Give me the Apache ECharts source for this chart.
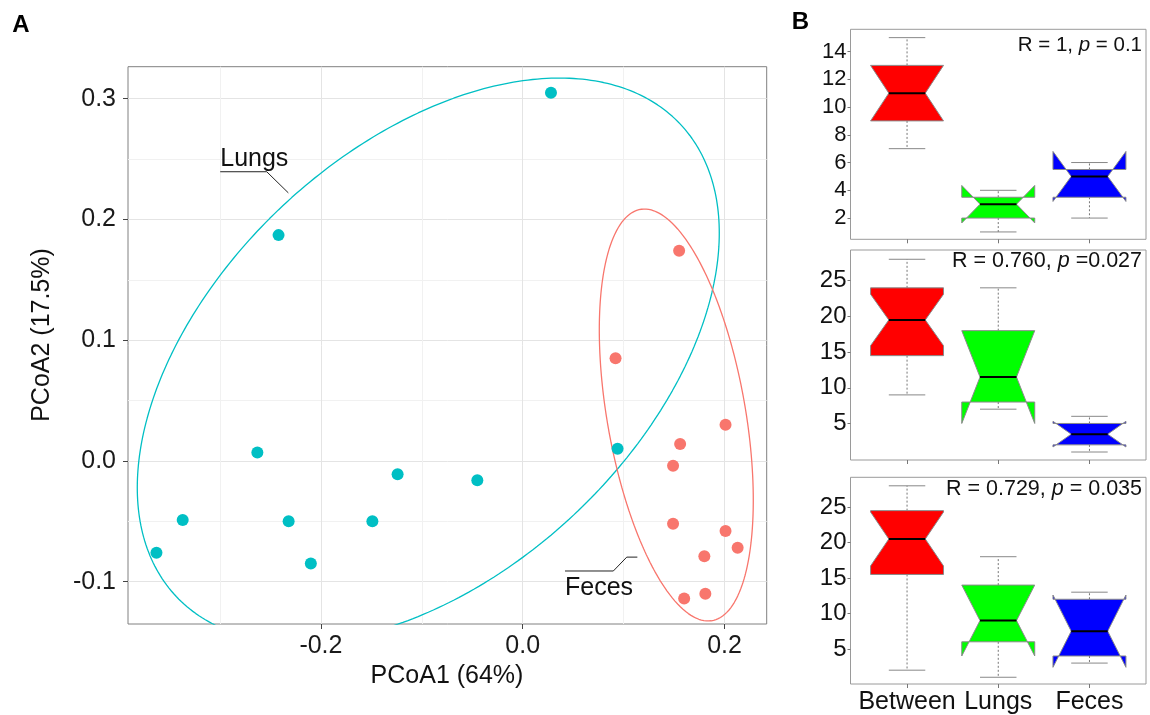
<!DOCTYPE html>
<html><head><meta charset="utf-8">
<script src="https://cdn.jsdelivr.net/npm/echarts@6/dist/echarts.min.js"></script>
<style>html,body{margin:0;padding:0;background:#fff}#c{width:1150px;height:715px}</style>
</head><body><div id="c"></div>
<script>
// ---------- Panel A data (PCoA) ----------
const lungsX = [0.028, -0.242, -0.263, -0.337, -0.363, -0.232, -0.210, -0.149, -0.124, -0.045, 0.094];
const lungsY = [0.305, 0.187, 0.007, -0.049, -0.076, -0.050, -0.085, -0.050, -0.011, -0.016, 0.010];
const fecesX = [0.155, 0.092, 0.201, 0.156, 0.149, 0.149, 0.201, 0.213, 0.180, 0.181, 0.160];
const fecesY = [0.174, 0.085, 0.030, 0.014, -0.004, -0.052, -0.058, -0.072, -0.079, -0.110, -0.114];
const xTicksA = [-0.2, 0.0, 0.2];
const yTicksA = [-0.1, 0.0, 0.1, 0.2, 0.3];
const xMinorA = [-0.3, -0.1, 0.1];
const yMinorA = [-0.05, 0.05, 0.15, 0.25];
// ellipse: centre x, centre y, x half-extent, y half-extent, phase (deg)
const lungsEllipse = [-0.0936, 0.0833, 0.2884, 0.2338, 63.2];
const fecesEllipse = [0.1522, 0.038, 0.0763, 0.1706, 114.4];
// group labels with leaders
const lungsLabelPos = [-0.2998, 0.250];
const lungsLeaderX = [-0.2998, -0.2537, -0.2323];
const lungsLeaderY = [0.2395, 0.2395, 0.2220];
const fecesLabelPos = [0.0419, -0.1055];
const fecesLeaderX = [0.0419, 0.0898, 0.1031, 0.1136];
const fecesLeaderY = [-0.0912, -0.0912, -0.0797, -0.0797];

// ---------- Panel B data (boxplots) ----------
const groups = ['Between', 'Lungs', 'Feces'];
const box1Low = [7, 1, 2], box1Q1 = [9, 2, 3.5], box1Med = [11, 3, 5], box1Q3 = [13, 3.5, 5.5], box1High = [15, 4, 6];
const box1NotchLow = [9, 1.65, 3.2], box1NotchHigh = [13, 4.35, 6.8];
const box2Low = [9, 7, 1], box2Q1 = [14.5, 8, 2], box2Med = [19.5, 11.5, 3.5], box2Q3 = [24, 18, 5], box2High = [28, 24, 6];
const box2NotchLow = [15.9, 5, 1.7], box2NotchHigh = [23.1, 18, 5.3];
const box3Low = [2, 1, 3], box3Q1 = [15.5, 6, 4], box3Med = [20.5, 9, 7.5], box3Q3 = [24.5, 14, 12], box3High = [28, 18, 13];
const box3NotchLow = [16.7, 4, 2.4], box3NotchHigh = [24.3, 14, 12.6];
const yTicksB1 = [2, 4, 6, 8, 10, 12, 14];
const yTicksB23 = [5, 10, 15, 20, 25];
const statTexts = ['R = 1, {i|p} = 0.1', 'R = 0.760, {i|p} =0.027', 'R = 0.729, {i|p} = 0.035'];

const FONT = '"Liberation Sans", Arial, Helvetica, sans-serif';
const boxColors = ['#FF0000', '#00FF00', '#0000FF'];

function ellipsePts(e) {
  const pts = [];
  const ph = e[4] * Math.PI / 180;
  for (let i = 0; i <= 360; i++) {
    const t = i * Math.PI / 180;
    pts.push([e[0] + e[2] * Math.cos(t), e[1] + e[3] * Math.cos(t - ph)]);
  }
  return pts;
}
const zip = (a, b) => a.map((v, i) => [v, b[i]]);
function boxData(lo, q1, med, q3, hi, nl, nh) {
  return groups.map((g, i) => [i + 1, lo[i], q1[i], med[i], q3[i], hi[i], nl[i], nh[i]]);
}

function boxRender(params, api) {
  const x = api.value(0), lo = api.value(1), q1 = api.value(2), med = api.value(3),
        q3 = api.value(4), hi = api.value(5), cl = api.value(6), ch = api.value(7);
  const color = boxColors[params.dataIndex];
  const hw = 0.4, nf = 0.5, sw = 0.2;
  const p = (a, b) => api.coord([a, b]);
  const poly = [[x-hw,q1],[x+hw,q1],[x+hw,cl],[x+hw*nf,med],[x+hw,ch],[x+hw,q3],[x-hw,q3],[x-hw,ch],[x-hw*nf,med],[x-hw,cl]].map(d => p(d[0], d[1]));
  const seg = (a, b, style) => ({ type: 'line', shape: { x1: a[0], y1: a[1], x2: b[0], y2: b[1] }, style: style });
  const wStyle = { stroke: '#777', lineWidth: 1, lineDash: [2, 2] };
  const sStyle = { stroke: '#888', lineWidth: 1 };
  return { type: 'group', children: [
    seg(p(x, q3), p(x, hi), wStyle), seg(p(x, q1), p(x, lo), wStyle),
    seg(p(x - sw, hi), p(x + sw, hi), sStyle), seg(p(x - sw, lo), p(x + sw, lo), sStyle),
    { type: 'polygon', shape: { points: poly }, style: { fill: color, stroke: '#8a8a8a', lineWidth: 1 } },
    seg(p(x - hw * nf, med), p(x + hw * nf, med), { stroke: '#000', lineWidth: 2 })
  ]};
}

const chart = echarts.init(document.getElementById('c'), null, { renderer: 'canvas' });

const xA = { min: -0.3912, max: 0.2418 };
const yA = { min: -0.1351, max: 0.3265 };
const bRanges = [[0.47, 15.6], [-0.12, 29.3], [0.05, 29.2]];

const grids = [
  { left: 128, top: 66.7, width: 638.7, height: 557.3, show: true, borderColor: '#808080', borderWidth: 1, backgroundColor: 'transparent' },
  { left: 850.5, top: 29.3, width: 295.5, height: 210, show: true, borderColor: '#9a9a9a', borderWidth: 1 },
  { left: 850.5, top: 250, width: 295.5, height: 210, show: true, borderColor: '#9a9a9a', borderWidth: 1 },
  { left: 850.5, top: 477.3, width: 295.5, height: 208.7, show: true, borderColor: '#9a9a9a', borderWidth: 1 }
];

const xAxes = [
  { gridIndex: 0, type: 'value', min: xA.min, max: xA.max, position: 'bottom',
    axisLine: { show: false, onZero: false },
    axisTick: { show: true, customValues: xTicksA, length: 5, lineStyle: { color: '#444' } },
    axisLabel: { customValues: xTicksA, formatter: v => v.toFixed(1), fontSize: 25, color: '#1a1a1a', fontFamily: FONT, margin: 10 },
    splitLine: { show: true, lineStyle: { color: '#e4e4e4', width: 1 } } },
  { gridIndex: 0, type: 'value', min: xA.min, max: xA.max, position: 'top',
    axisLine: { show: false, onZero: false }, axisTick: { show: false, customValues: xMinorA }, axisLabel: { show: false, customValues: xMinorA },
    splitLine: { show: true, lineStyle: { color: '#f1f1f1', width: 1 } } }
];
const yAxes = [
  { gridIndex: 0, type: 'value', min: yA.min, max: yA.max, position: 'left',
    axisLine: { show: false, onZero: false },
    axisTick: { show: true, customValues: yTicksA, length: 5, lineStyle: { color: '#444' } },
    axisLabel: { customValues: yTicksA, formatter: v => v.toFixed(1), fontSize: 25, color: '#1a1a1a', fontFamily: FONT, margin: 12 },
    splitLine: { show: true, lineStyle: { color: '#e4e4e4', width: 1 } } },
  { gridIndex: 0, type: 'value', min: yA.min, max: yA.max, position: 'right',
    axisLine: { show: false, onZero: false }, axisTick: { show: false, customValues: yMinorA }, axisLabel: { show: false, customValues: yMinorA },
    splitLine: { show: true, lineStyle: { color: '#f1f1f1', width: 1 } } }
];
for (let k = 0; k < 3; k++) {
  xAxes.push({ gridIndex: k + 1, type: 'value', min: 0.38, max: 3.62, position: 'bottom',
    axisLine: { show: false, onZero: false },
    axisTick: { show: true, customValues: [1, 2, 3], length: 4, lineStyle: { color: '#777' } },
    axisLabel: { show: k === 2, customValues: [1, 2, 3], formatter: v => groups[Math.round(v) - 1], fontSize: 25, color: '#111', fontFamily: FONT, margin: 6 },
    splitLine: { show: false } });
  const ticks = k === 0 ? yTicksB1 : yTicksB23;
  yAxes.push({ gridIndex: k + 1, type: 'value', min: bRanges[k][0], max: bRanges[k][1], position: 'left',
    axisLine: { show: false, onZero: false },
    axisTick: { show: true, customValues: ticks, length: 3, lineStyle: { color: '#777' } },
    axisLabel: { customValues: ticks, fontSize: k === 0 ? 22 : 24, color: '#111', fontFamily: FONT, margin: 4 },
    splitLine: { show: false } });
}

const boxSets = [
  boxData(box1Low, box1Q1, box1Med, box1Q3, box1High, box1NotchLow, box1NotchHigh),
  boxData(box2Low, box2Q1, box2Med, box2Q3, box2High, box2NotchLow, box2NotchHigh),
  boxData(box3Low, box3Q1, box3Med, box3Q3, box3High, box3NotchLow, box3NotchHigh)
];

const series = [
  { type: 'line', xAxisIndex: 0, yAxisIndex: 0, data: ellipsePts(lungsEllipse), showSymbol: false, symbol: 'none', clip: true,
    lineStyle: { color: '#00BFC4', width: 1.3 }, silent: true, z: 3 },
  { type: 'line', xAxisIndex: 0, yAxisIndex: 0, data: ellipsePts(fecesEllipse), showSymbol: false, symbol: 'none', clip: true,
    lineStyle: { color: '#F8766D', width: 1.3 }, silent: true, z: 3 },
  { type: 'scatter', xAxisIndex: 0, yAxisIndex: 0, data: zip(lungsX, lungsY), symbolSize: 12,
    itemStyle: { color: '#00BFC4', opacity: 1 }, z: 4 },
  { type: 'scatter', xAxisIndex: 0, yAxisIndex: 0, data: zip(fecesX, fecesY), symbolSize: 12,
    itemStyle: { color: '#F8766D', opacity: 1 }, z: 4 },
  { type: 'line', xAxisIndex: 0, yAxisIndex: 0, data: zip(lungsLeaderX, lungsLeaderY), symbol: 'none',
    lineStyle: { color: '#222', width: 1 }, z: 5 },
  { type: 'line', xAxisIndex: 0, yAxisIndex: 0, data: zip(fecesLeaderX, fecesLeaderY), symbol: 'none',
    lineStyle: { color: '#222', width: 1 }, z: 5 },
  { type: 'scatter', xAxisIndex: 0, yAxisIndex: 0, symbolSize: 0, z: 6,
    data: [{ value: lungsLabelPos, name: 'Lungs' }, { value: fecesLabelPos, name: 'Feces' }],
    label: { show: true, position: 'right', distance: 0, formatter: '{b}', fontSize: 25, color: '#111', opacity: 1,
      textBorderWidth: 0, fontFamily: FONT } }
];
for (let k = 0; k < 3; k++) {
  series.push({ type: 'custom', xAxisIndex: k + 2, yAxisIndex: k + 2, data: boxSets[k], renderItem: boxRender,
    encode: { x: 0, y: [1, 2, 3, 4, 5] }, clip: false });
}

const statY = [45, 260.8, 489];
const statSize = [20.5, 21.5, 21.5];
const graphic = [
  { type: 'text', x: 21, y: 25, style: { text: 'A', font: 'bold 24px ' + FONT, fill: '#000', textAlign: 'center', textVerticalAlign: 'middle' } },
  { type: 'text', x: 800.5, y: 22.5, style: { text: 'B', font: 'bold 24px ' + FONT, fill: '#000', textAlign: 'center', textVerticalAlign: 'middle' } },
  { type: 'text', x: 447, y: 676, style: { text: 'PCoA1 (64%)', font: '25px ' + FONT, fill: '#111', textAlign: 'center', textVerticalAlign: 'middle' } },
  { type: 'text', x: 42.5, y: 335, rotation: Math.PI / 2, style: { text: 'PCoA2 (17.5%)', font: '25px ' + FONT, fill: '#111', textAlign: 'center', textVerticalAlign: 'middle' } }
];
for (let k = 0; k < 3; k++) {
  graphic.push({ type: 'text', x: 1142, y: statY[k], z: 10, style: {
    text: statTexts[k], font: statSize[k] + 'px ' + FONT, fill: '#111', textAlign: 'right', textVerticalAlign: 'middle',
    rich: { i: { fontStyle: 'italic', fontSize: statSize[k], fontFamily: FONT, fill: '#111' } } } });
}

chart.setOption({
  backgroundColor: '#fff',
  animation: false,
  grid: grids,
  xAxis: xAxes,
  yAxis: yAxes,
  series: series,
  graphic: graphic
});
</script>
</body></html>
